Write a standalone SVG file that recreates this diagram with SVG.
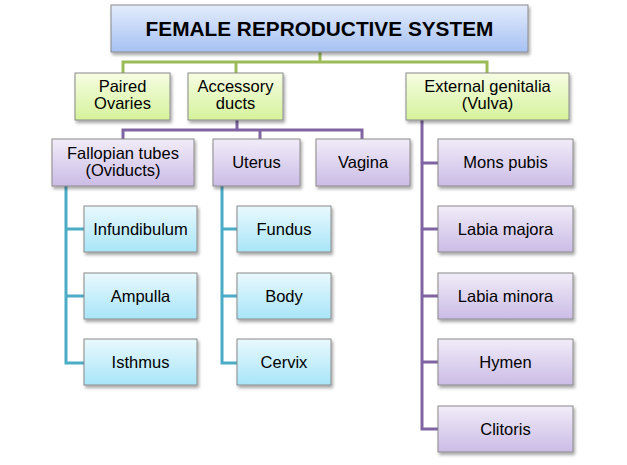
<svg xmlns="http://www.w3.org/2000/svg" width="627" height="465" viewBox="0 0 627 465">
<defs>
<linearGradient id="gTitle" x1="0" y1="0" x2="0" y2="1"><stop offset="0" stop-color="#e3ecfc"/><stop offset="1" stop-color="#a6c1f3"/></linearGradient>
<linearGradient id="gGreen" x1="0" y1="0" x2="0" y2="1"><stop offset="0" stop-color="#f6fde3"/><stop offset="1" stop-color="#d5f29b"/></linearGradient>
<linearGradient id="gPurple" x1="0" y1="0" x2="0" y2="1"><stop offset="0" stop-color="#f1ecf8"/><stop offset="1" stop-color="#cbbce6"/></linearGradient>
<linearGradient id="gBlue" x1="0" y1="0" x2="0" y2="1"><stop offset="0" stop-color="#e9f9fd"/><stop offset="1" stop-color="#a8e5f8"/></linearGradient>
<filter id="sh" x="-10%" y="-10%" width="130%" height="140%"><feDropShadow dx="1.5" dy="2.5" stdDeviation="1.5" flood-color="#000" flood-opacity="0.35"/></filter>
</defs>
<style>
.box{stroke:#8a8a8a;stroke-width:1;filter:url(#sh)}
.t{font-family:"Liberation Sans",Arial,sans-serif;font-size:16.5px;fill:#000;text-anchor:middle}
.title{font-family:"Liberation Sans",Arial,sans-serif;font-size:20.8px;font-weight:bold;fill:#000;text-anchor:middle}
.cg{stroke:#9bbb59;stroke-width:3;fill:none}
.cp{stroke:#8064a2;stroke-width:3;fill:none}
.ct{stroke:#4bacc6;stroke-width:3;fill:none}
</style>
<rect width="627" height="465" fill="#fff"/>
<g id="connectors">
<path class="cg" d="M320,52 V62 M123,73 V62 H487 V73 M236,62 V73"/>
<path class="cp" d="M237,120 V130 M123,139 V130 H362 V139 M260,130 V139"/>
<path class="cp" d="M422,120 V429 H438 M422,163 H438 M422,229 H438 M422,296 H438 M422,362 H438"/>
<path class="ct" d="M66,186 V363 H84 M66,229 H84 M66,296 H84"/>
<path class="ct" d="M222,186 V363 H237 M222,229 H237 M222,296 H237"/>
</g>
<g id="title"><rect class="box" x="111" y="5" width="417" height="47" fill="url(#gTitle)"/><text class="title" x="319.5" y="36">FEMALE REPRODUCTIVE SYSTEM</text></g>
<g id="ovaries"><rect class="box" x="75" y="73" width="95" height="47" fill="url(#gGreen)"/><text class="t" x="122.5" y="92">Paired</text><text class="t" x="122.5" y="109">Ovaries</text></g>
<g id="accessory"><rect class="box" x="188" y="73" width="95" height="47" fill="url(#gGreen)"/><text class="t" x="235.5" y="92">Accessory</text><text class="t" x="235.5" y="109">ducts</text></g>
<g id="external"><rect class="box" x="406" y="73" width="163" height="47" fill="url(#gGreen)"/><text class="t" x="487.5" y="92">External genitalia</text><text class="t" x="487.5" y="109">(Vulva)</text></g>
<g id="fallopian"><rect class="box" x="52" y="139" width="142" height="47" fill="url(#gPurple)"/><text class="t" x="123" y="159">Fallopian tubes</text><text class="t" x="123" y="176">(Oviducts)</text></g>
<g id="uterus"><rect class="box" x="213" y="139" width="87" height="47" fill="url(#gPurple)"/><text class="t" x="256.5" y="168">Uterus</text></g>
<g id="vagina"><rect class="box" x="316" y="139" width="94" height="47" fill="url(#gPurple)"/><text class="t" x="363" y="168">Vagina</text></g>
<g id="mons"><rect class="box" x="438" y="139" width="135" height="47" fill="url(#gPurple)"/><text class="t" x="505.5" y="168">Mons pubis</text></g>
<g id="majora"><rect class="box" x="438" y="206" width="135" height="46" fill="url(#gPurple)"/><text class="t" x="505.5" y="235">Labia majora</text></g>
<g id="minora"><rect class="box" x="438" y="273" width="135" height="46" fill="url(#gPurple)"/><text class="t" x="505.5" y="302">Labia minora</text></g>
<g id="hymen"><rect class="box" x="438" y="339" width="135" height="46" fill="url(#gPurple)"/><text class="t" x="505.5" y="368">Hymen</text></g>
<g id="clitoris"><rect class="box" x="438" y="406" width="135" height="46" fill="url(#gPurple)"/><text class="t" x="505.5" y="435">Clitoris</text></g>
<g id="infundibulum"><rect class="box" x="84" y="206" width="113" height="46" fill="url(#gBlue)"/><text class="t" x="140.5" y="235">Infundibulum</text></g>
<g id="ampulla"><rect class="box" x="84" y="273" width="113" height="46" fill="url(#gBlue)"/><text class="t" x="140.5" y="302">Ampulla</text></g>
<g id="isthmus"><rect class="box" x="84" y="339" width="113" height="46" fill="url(#gBlue)"/><text class="t" x="140.5" y="368">Isthmus</text></g>
<g id="fundus"><rect class="box" x="237" y="206" width="94" height="46" fill="url(#gBlue)"/><text class="t" x="284" y="235">Fundus</text></g>
<g id="body"><rect class="box" x="237" y="273" width="94" height="46" fill="url(#gBlue)"/><text class="t" x="284" y="302">Body</text></g>
<g id="cervix"><rect class="box" x="237" y="339" width="94" height="46" fill="url(#gBlue)"/><text class="t" x="284" y="368">Cervix</text></g>
</svg>
